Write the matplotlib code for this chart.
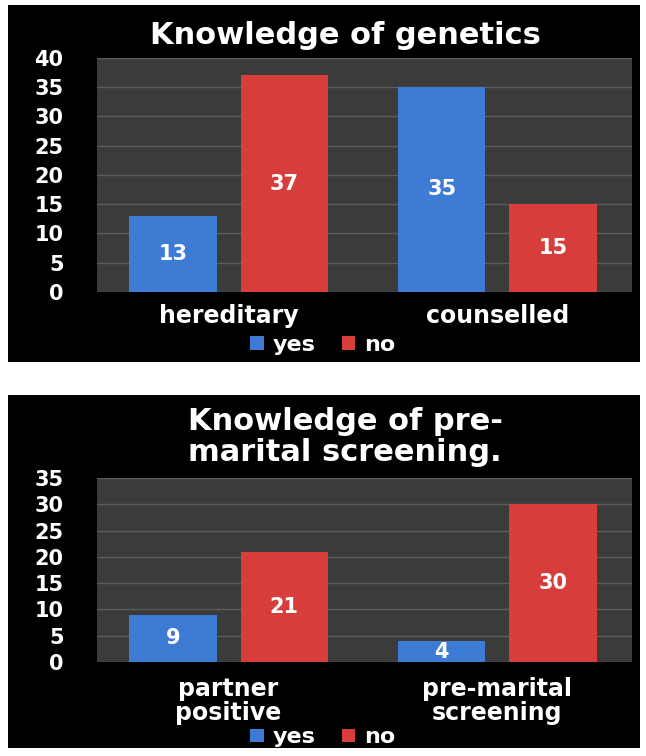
import matplotlib
matplotlib.use('Agg')
import matplotlib.pyplot as plt
import numpy as np

# Chart data
series = ['yes', 'no']
genetics_cats = ['hereditary', 'counselled']
genetics_yes = [13, 35]
genetics_no = [37, 15]

screening_cats = ['partner\npositive', 'pre-marital\nscreening']
screening_yes = [9, 4]
screening_no = [21, 30]

blue = '#3d7bd4'
red = '#d73e3b'

plt.rcParams['font.family'] = ['DejaVu Sans']
plt.rcParams['font.weight'] = 'bold'

fig = plt.figure(figsize=(6.46, 7.56), dpi=100)
fig.patch.set_facecolor('white')


def panel(rect):
    # black background box behind each chart
    p = fig.add_axes(rect)
    p.set_facecolor('black')
    p.set_xticks([])
    p.set_yticks([])
    for s in p.spines.values():
        s.set_visible(False)
    return p


def bars(rect, cats, yes, no, ymax, label_pad, legend_y):
    ax = fig.add_axes(rect)
    ax.set_facecolor('#3b3b3b')
    x = np.arange(len(cats))
    w = 0.324
    off = 0.207
    b1 = ax.bar(x - off, yes, w, color=blue, label=series[0], zorder=3)
    b2 = ax.bar(x + off, no, w, color=red, label=series[1], zorder=3)
    for b in (b1, b2):
        ax.bar_label(b, label_type='center', color='white', fontsize=15,
                     fontweight='bold')
    ax.set_xlim(-0.49, 1.5)
    ax.set_ylim(0, ymax)
    ax.set_yticks(range(0, ymax + 1, 5))
    ax.yaxis.grid(True, color='#5c5c5c', lw=1, zorder=0)
    ax.set_xticks(x)
    ax.set_xticklabels(cats, fontsize=17, fontweight='bold', color='white',
                       linespacing=1.0)
    ax.tick_params(axis='x', length=0, pad=label_pad)
    ax.tick_params(axis='y', length=0, pad=24, labelsize=15, labelcolor='white')
    for s in ax.spines.values():
        s.set_visible(False)
    leg = ax.legend(loc='center', bbox_to_anchor=(0.5, legend_y),
                    bbox_transform=fig.transFigure, ncol=2, frameon=False,
                    handlelength=0.6, handleheight=0.55, handletextpad=0.4,
                    columnspacing=1.2, fontsize=16)
    for t in leg.get_texts():
        t.set_color('white')
        t.set_fontweight('bold')
    return ax


# top chart
panel([0.012, 0.521, 0.978, 0.472])
bars([0.150, 0.614, 0.828, 0.3095], genetics_cats, genetics_yes, genetics_no,
     40, 9, 0.544)
fig.text(0.534, 0.953, 'Knowledge of genetics', ha='center', va='center',
         color='white', fontsize=22, fontweight='bold')

# bottom chart
panel([0.012, 0.0106, 0.978, 0.467])
bars([0.150, 0.1243, 0.828, 0.2434], screening_cats, screening_yes,
     screening_no, 35, 11, 0.025)
fig.text(0.534, 0.422, 'Knowledge of pre-\nmarital screening.', ha='center',
         va='center', color='white', fontsize=22, fontweight='bold',
         linespacing=1.1)

plt.savefig('out.png', dpi=100, facecolor=fig.get_facecolor())
